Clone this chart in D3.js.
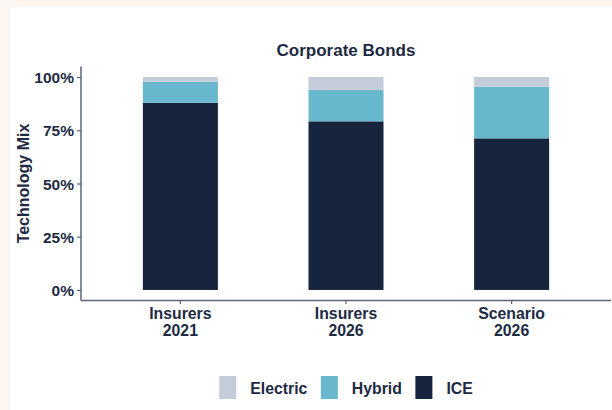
<!DOCTYPE html>
<html>
<head>
<meta charset="utf-8">
<script src="https://cdn.jsdelivr.net/npm/d3@7"></script>
<style>
  html, body { margin: 0; padding: 0; background: #fdf5ef; }
  svg { display: block; }
  text { font-family: "Liberation Sans", Arial, Helvetica, sans-serif; font-weight: bold; fill: #1e2a43; }
</style>
</head>
<body>
<div id="chart"></div>
<script>
// data
var categorias = ["Insurers 2021", "Insurers 2026", "Scenario 2026"];
var etiquetas = [["Insurers", "2021"], ["Insurers", "2026"], ["Scenario", "2026"]];
var tecnologias = ["ICE", "Hybrid", "Electric"];   // stacked bottom -> top
var ice = [0.879, 0.792, 0.712];
var hybrid = [0.099, 0.147, 0.242];
var electric = [0.022, 0.061, 0.046];
var yTicks = [0, 0.25, 0.5, 0.75, 1];
var leyenda = ["Electric", "Hybrid", "ICE"];

var colores = { "Electric": "#c4cbd9", "Hybrid": "#67b8cc", "ICE": "#16253d" };
var colorEje = "#5b6479";

var width = 612, height = 410;

var svg = d3.select("#chart").append("svg")
    .attr("width", width)
    .attr("height", height);

// panel blanco
svg.append("rect")
    .attr("x", 10).attr("y", 7)
    .attr("width", width - 10).attr("height", height - 7)
    .attr("fill", "white");

var plot = { left: 81, right: 611, top: 66.4, bottom: 300.6 };

// ggplot style expansion: 5% on y
var y = d3.scaleLinear()
    .domain([-0.05, 1.05])
    .range([plot.bottom, plot.top]);

var x = d3.scaleBand()
    .domain(categorias)
    .range([plot.left, plot.right])
    .paddingInner(0.547)
    .paddingOuter(0.3735);

// build stacked table
var tabla = categorias.map(function (c, i) {
    return { cat: c, ICE: ice[i], Hybrid: hybrid[i], Electric: electric[i] };
});
var series = d3.stack().keys(tecnologias)(tabla);

svg.append("g")
    .selectAll("g")
    .data(series)
    .enter()
    .append("g")
    .attr("fill", function (d) { return colores[d.key]; })
    .selectAll("rect")
    .data(function (d) { return d; })
    .enter()
    .append("rect")
    .attr("x", function (d) { return x(d.data.cat); })
    .attr("width", x.bandwidth())
    .attr("y", function (d) { return y(d[1]); })
    .attr("height", function (d) { return y(d[0]) - y(d[1]); });

// y axis
var ejeY = svg.append("g")
    .attr("transform", "translate(" + plot.left + ",0)")
    .call(d3.axisLeft(y).tickValues(yTicks).tickSize(4).tickPadding(3)
        .tickFormat(d3.format(".0%")));
ejeY.select(".domain").remove();
ejeY.selectAll(".tick line").attr("stroke", colorEje).attr("stroke-width", 1.2);
ejeY.selectAll(".tick text")
    .attr("font-size", "15.5px")
    .attr("fill", "#1e2a43")
    .attr("dy", "0.36em");

// x axis
var ejeX = svg.append("g")
    .attr("transform", "translate(0," + plot.bottom + ")")
    .call(d3.axisBottom(x).tickSize(3.5).tickFormat(""));
ejeX.select(".domain").remove();
ejeX.selectAll(".tick line").attr("stroke", colorEje).attr("stroke-width", 1.2);

ejeX.selectAll(".tick")
    .append("text")
    .attr("text-anchor", "middle")
    .attr("font-size", "15.8px")
    .attr("fill", "#1e2a43")
    .each(function (d, i) {
        var t = d3.select(this);
        t.append("tspan").attr("x", 0).attr("y", 18.7).text(etiquetas[i][0]);
        t.append("tspan").attr("x", 0).attr("y", 35.4).text(etiquetas[i][1]);
    });

// axis lines
svg.append("line")
    .attr("x1", plot.left).attr("x2", plot.left)
    .attr("y1", plot.top).attr("y2", plot.bottom)
    .attr("stroke", colorEje).attr("stroke-width", 1.5);
svg.append("line")
    .attr("x1", plot.left).attr("x2", plot.right)
    .attr("y1", plot.bottom).attr("y2", plot.bottom)
    .attr("stroke", colorEje).attr("stroke-width", 1.5);

var centro = (plot.left + plot.right) / 2;

// titulo
svg.append("text")
    .attr("x", centro)
    .attr("y", 55.5)
    .attr("text-anchor", "middle")
    .attr("font-size", "17px")
    .text("Corporate Bonds");

// titulo eje y
svg.append("text")
    .attr("transform", "translate(29," + ((plot.top + plot.bottom) / 2) + ") rotate(-90)")
    .attr("text-anchor", "middle")
    .attr("font-size", "16px")
    .text("Technology Mix");

// leyenda
var gLey = svg.append("g");
var cx = 0;
leyenda.forEach(function (k, i) {
    var g = gLey.append("g").attr("transform", "translate(" + cx + ",0)");
    g.append("rect")
        .attr("x", 0).attr("y", 376)
        .attr("width", 17).attr("height", 23)
        .attr("fill", colores[k]);
    var t = g.append("text")
        .attr("x", 31).attr("y", 394)
        .attr("font-size", "15.8px")
        .text(k);
    cx += 31 + t.node().getComputedTextLength() + 13.5;
});
var anchoLey = cx - 13.5;
gLey.attr("transform", "translate(" + (centro - anchoLey / 2) + ",0)");
</script>
</body>
</html>
